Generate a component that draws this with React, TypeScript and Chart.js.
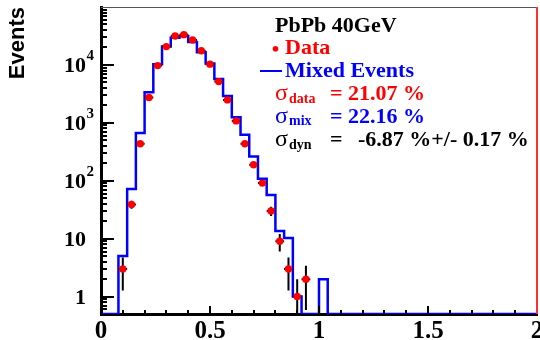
import React, { useEffect, useRef } from 'react';
import { Chart, registerables } from 'chart.js';

Chart.register(...registerables);

// ---- data ----
const dataX = [0.10, 0.14, 0.18, 0.22, 0.26, 0.30, 0.34, 0.38, 0.42, 0.46, 0.50, 0.54, 0.58, 0.62, 0.66, 0.70, 0.74, 0.78, 0.82, 0.86, 0.90, 0.94];
const dataCounts = [3, 39, 434, 2730, 9730, 20700, 31600, 33300, 27000, 17600, 10300, 5150, 2490, 1080, 434, 189, 91, 30, 9, 3, 1, 2];
const dataXHalfWidth = 0.02;

const mixedEdges = [0.00, 0.08, 0.12, 0.16, 0.20, 0.24, 0.28, 0.32, 0.36, 0.40, 0.44, 0.48, 0.52, 0.56, 0.60, 0.64, 0.68, 0.72, 0.76, 0.80, 0.84, 0.88, 0.92, 1.00, 1.04, 2.00];
const mixedCounts = [0, 5, 72, 665, 3380, 10300, 20700, 29500, 31600, 24800, 16500, 10600, 5700, 2900, 1250, 620, 262, 108, 57, 13.5, 10.3, 1, 0, 2, 0, 0];

const xTickValues = [0, 0.5, 1, 1.5, 2];
const yTickValues = [1, 10, 100, 1000, 10000];
const yTickBase = ['1', '10', '10', '10', '10'];
const yTickExp = ['', '', '2', '3', '4'];

const Y_MIN = 0.5;
const Y_MAX = 100000;
const X_MIN = 0;
const X_MAX = 2;

const SERIF = '"Liberation Serif", "Times New Roman", serif';
const SANS = '"Liberation Sans", Arial, sans-serif';
const RED = '#ff0000';
const BLUE = '#0000ff';

const errorBarPlugin = {
  id: 'errorBars',
  beforeDatasetDraw(chart: any, args: any) {
    if (args.index !== 0) return;
    const { ctx, chartArea, scales } = chart;
    const xs = scales.x, ys = scales.y;
    ctx.save();
    ctx.beginPath();
    ctx.rect(chartArea.left, chartArea.top, chartArea.right - chartArea.left, chartArea.bottom - chartArea.top);
    ctx.clip();
    ctx.strokeStyle = '#000';
    ctx.lineWidth = 2;
    dataX.forEach((x, i) => {
      const n = dataCounts[i];
      const err = Math.sqrt(n);
      const px = xs.getPixelForValue(x);
      const py = ys.getPixelForValue(n);
      const lo = n - err > 0 ? ys.getPixelForValue(n - err) : chartArea.bottom + 5;
      const hi = ys.getPixelForValue(n + err);
      ctx.beginPath();
      ctx.moveTo(px, lo);
      ctx.lineTo(px, hi);
      ctx.moveTo(xs.getPixelForValue(x - dataXHalfWidth), py);
      ctx.lineTo(xs.getPixelForValue(x + dataXHalfWidth), py);
      ctx.stroke();
    });
    ctx.restore();
  },
};

const axesPlugin = {
  id: 'rootAxes',
  afterDatasetsDraw(chart: any) {
    const { ctx, chartArea, scales } = chart;
    const xs = scales.x, ys = scales.y;
    const { left, right, top, bottom } = chartArea;
    ctx.save();
    ctx.strokeStyle = '#000';
    ctx.lineWidth = 2;
    // y ticks (inward)
    for (let d = -1; d <= 4; d++) {
      for (let k = 1; k <= 9; k++) {
        const v = k * Math.pow(10, d);
        if (v <= Y_MIN || v > Y_MAX) continue;
        const py = Math.round(ys.getPixelForValue(v));
        const len = k === 1 ? 13 : 6;
        ctx.beginPath();
        ctx.moveTo(left, py);
        ctx.lineTo(left + len, py);
        ctx.stroke();
      }
    }
    // x ticks (inward)
    for (let i = 0; i <= 20; i++) {
      const v = i / 10;
      const px = Math.round(xs.getPixelForValue(v));
      const len = i % 5 === 0 ? 8 : 4;
      ctx.beginPath();
      ctx.moveTo(px, bottom);
      ctx.lineTo(px, bottom - len);
      ctx.stroke();
    }
    // frame: top (grey) and right (red)
    ctx.lineWidth = 1;
    ctx.strokeStyle = '#555';
    ctx.beginPath();
    ctx.moveTo(left, top + 0.5);
    ctx.lineTo(right, top + 0.5);
    ctx.stroke();
    ctx.lineWidth = 2;
    ctx.strokeStyle = '#ff3030';
    ctx.beginPath();
    ctx.moveTo(right, top);
    ctx.lineTo(right, bottom);
    ctx.stroke();

    // y tick labels
    ctx.fillStyle = '#000';
    ctx.textBaseline = 'alphabetic';
    yTickValues.forEach((v, i) => {
      const py = ys.getPixelForValue(v);
      ctx.font = `bold 22px ${SERIF}`;
      ctx.textAlign = 'right';
      ctx.fillText(yTickBase[i], 86, py + 7.5);
      if (yTickExp[i]) {
        ctx.font = `bold 15px ${SERIF}`;
        ctx.textAlign = 'left';
        ctx.fillText(yTickExp[i], 86.5, py - 5);
      }
    });
    ctx.restore();
  },
};

const textPlugin = {
  id: 'rootText',
  afterDraw(chart: any) {
    const { ctx } = chart;
    ctx.save();
    ctx.textAlign = 'left';
    ctx.textBaseline = 'alphabetic';
    const main = `bold 22px ${SERIF}`;
    const sub = `bold 14px ${SERIF}`;
    const sig = `24px ${SERIF}`;

    ctx.fillStyle = '#000';
    ctx.font = main;
    ctx.fillText('PbPb 40GeV', 275, 31.7);

    ctx.fillStyle = RED;
    ctx.beginPath();
    ctx.arc(275.5, 48.8, 2.8, 0, Math.PI * 2);
    ctx.fill();
    ctx.fillText('Data', 285, 54.2);

    ctx.strokeStyle = BLUE;
    ctx.lineWidth = 2;
    ctx.beginPath();
    ctx.moveTo(260, 71);
    ctx.lineTo(282, 71);
    ctx.stroke();
    ctx.fillStyle = BLUE;
    ctx.fillText('Mixed Events', 285, 77.2);

    const sigmaLine = (color: string, s: string, rest: string[], y: number) => {
      ctx.fillStyle = color;
      ctx.font = sig;
      ctx.fillText('\u03c3', 275, y);
      ctx.font = sub;
      ctx.fillText(s, 289, y + 2.5);
      ctx.font = main;
      ctx.fillText(rest[0], 330, y);
      if (rest[1]) ctx.fillText(rest[1], 358, y);
    };
    sigmaLine(RED, 'data', ['= 21.07 %'], 100);
    sigmaLine(BLUE, 'mix', ['= 22.16 %'], 122.8);
    sigmaLine('#000', 'dyn', ['=', '-6.87 %+/- 0.17 %'], 146);
    ctx.restore();
  },
};

export default function App() {
  const ref = useRef<HTMLCanvasElement>(null);
  useEffect(() => {
    if (!ref.current) return;
    const chart = new Chart(ref.current, {
      type: 'scatter',
      data: {
        datasets: [
          {
            type: 'scatter',
            label: 'Data',
            data: dataX.map((x, i) => ({ x, y: dataCounts[i] })),
            pointRadius: 3.7,
            pointBackgroundColor: RED,
            pointBorderWidth: 0,
            borderColor: RED,
          },
          {
            type: 'line',
            label: 'Mixed Events',
            data: mixedEdges.map((x, i) => ({ x, y: mixedCounts[i] > 0 ? mixedCounts[i] : Y_MIN })),
            stepped: true,
            borderColor: BLUE,
            borderWidth: 2.5,
            pointRadius: 0,
            fill: false,
          } as any,
        ],
      },
      options: {
        animation: false,
        responsive: false,
        devicePixelRatio: 1,
        layout: { padding: { left: 0, right: 3, top: 7, bottom: 0 }, autoPadding: false } as any,
        plugins: { legend: { display: false }, tooltip: { enabled: false } },
        scales: {
          x: {
            type: 'linear',
            min: X_MIN,
            max: X_MAX,
            afterBuildTicks: (s: any) => { s.ticks = xTickValues.map((v) => ({ value: v })); },
            ticks: {
              autoSkip: false,
              maxRotation: 0,
              padding: -5,
              color: '#000',
              font: { family: SERIF, size: 25, weight: 'bold' },
              callback: (v: any) => String(v),
            },
            grid: { display: false },
            border: { display: true, width: 3, color: '#000' },
            afterFit: (s: any) => { s.height = 26; s.paddingLeft = 0; s.paddingRight = 0; },
          },
          y: {
            type: 'logarithmic',
            min: Y_MIN,
            max: Y_MAX,
            ticks: { display: false },
            grid: { display: false },
            border: { display: true, width: 3, color: '#000' },
            title: {
              display: true,
              text: 'Events',
              align: 'end',
              color: '#000',
              font: { family: SANS, size: 22, weight: 'bold' },
              padding: { top: 5, bottom: 0 },
            },
            afterFit: (s: any) => { s.width = 101; s.paddingTop = 0; s.paddingBottom = 0; },
          },
        },
      } as any,
      plugins: [errorBarPlugin, axesPlugin, textPlugin],
    });
    return () => chart.destroy();
  }, []);
  return (
    <div style={{ position: 'fixed', left: 0, top: 0, width: 540, height: 340, background: '#fff' }}>
      <canvas ref={ref} width={540} height={340} style={{ display: 'block', width: 540, height: 340 }} />
    </div>
  );
}
